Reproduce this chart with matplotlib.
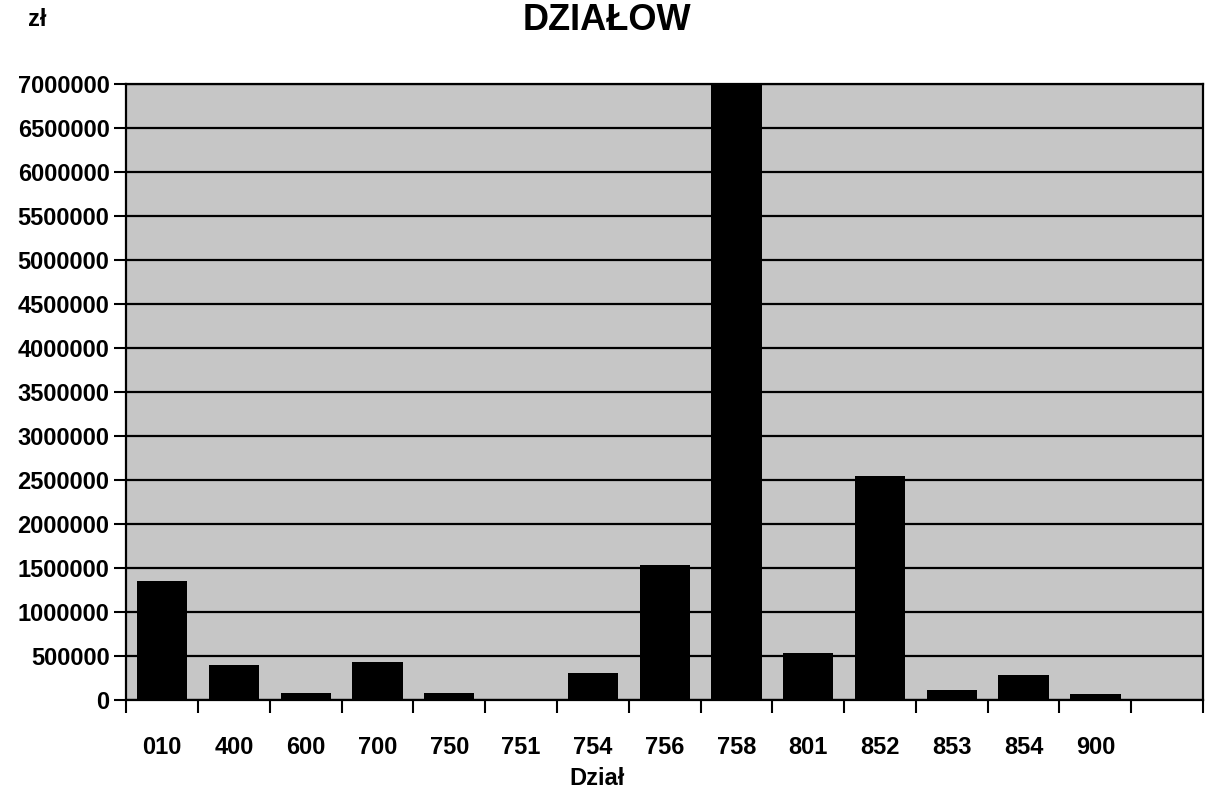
import numpy as np
import matplotlib
matplotlib.use('Agg')
import matplotlib.pyplot as plt

# dane (zł wg działów)
dzialy = ['010', '400', '600', '700', '750', '751', '754',
          '756', '758', '801', '852', '853', '854', '900']
kwoty = [1350000, 400000, 80000, 430000, 80000, 0, 310000,
         1530000, 7100000, 530000, 2550000, 110000, 285000, 63000]

y_ticks = np.arange(0, 7000001, 500000)

plt.rcParams['font.family'] = ['Liberation Sans', 'DejaVu Sans']
plt.rcParams['font.weight'] = 'bold'

fig = plt.figure(figsize=(12.14, 7.97), dpi=100)
ax = fig.add_axes([0.104, 0.1217, 0.887, 0.773])
ax.set_facecolor('#c6c6c6')

x = np.arange(len(dzialy))
ax.bar(x, kwoty, width=0.7, color='black', zorder=3)

# jeden pusty slot na końcu osi, jak w oryginale
ax.set_xlim(-0.5, len(dzialy) + 0.5)
ax.set_ylim(0, 7000000)

ax.set_yticks(y_ticks)
ax.set_yticklabels([str(v) for v in y_ticks], fontsize=17, fontweight='bold')
ax.yaxis.grid(True, color='black', linewidth=1.6, zorder=1)
ax.set_axisbelow(True)

bounds = np.arange(-0.5, len(dzialy) + 1.0, 1.0)
ax.set_xticks(bounds)
ax.set_xticklabels([''] * len(bounds))
ax.set_xticks(x, minor=True)
ax.set_xticklabels(dzialy, minor=True, fontsize=17, fontweight='bold')
ax.tick_params(axis='x', which='major', length=9, width=1.5, direction='out')
ax.tick_params(axis='x', which='minor', length=0, pad=26)
ax.tick_params(axis='y', length=9, width=1.5, pad=3)

for s in ax.spines.values():
    s.set_color('black')
    s.set_linewidth(1.6)

ax.set_xlabel('Dział', fontsize=17, fontweight='bold', labelpad=6, x=0.437)

fig.text(0.5, 0.974, 'DZIAŁOW', ha='center', va='center',
         fontsize=26, fontweight='bold')
fig.text(0.023, 0.976, 'zł', ha='left', va='center',
         fontsize=17, fontweight='bold')

fig.savefig('out.png', dpi=100)
